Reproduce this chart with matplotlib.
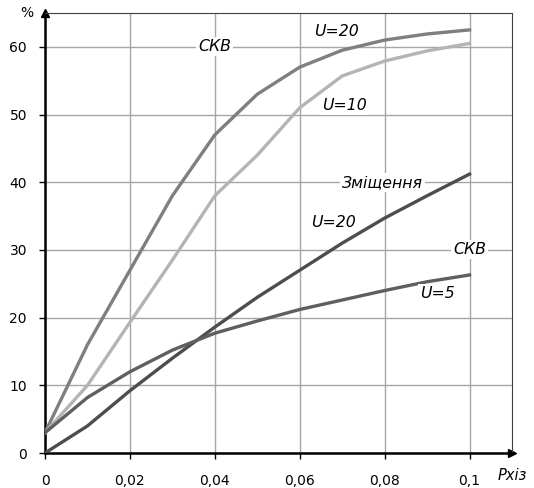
import matplotlib.pyplot as plt

x = [0, 0.01, 0.02, 0.03, 0.04, 0.05, 0.06, 0.07, 0.08, 0.09, 0.1]
skv_u20 = [3, 16, 27, 38, 47, 53, 57, 59.5, 61, 61.9, 62.5]
skv_u10 = [3, 10, 19.3, 28.5, 38, 44, 51, 55.7, 57.9, 59.4, 60.5]
zm_u20 = [0, 4, 9.2, 14, 18.6, 23, 27, 31, 34.7, 38, 41.2]
zm_u5 = [3, 8.2, 12, 15.2, 17.7, 19.5, 21.2, 22.6, 24, 25.3, 26.3]

xticks = [0, 0.02, 0.04, 0.06, 0.08, 0.1]
xtick_labels = ["0", "0,02", "0,04", "0,06", "0,08", "0,1"]
yticks = [0, 10, 20, 30, 40, 50, 60]

labels = [
    ("СКВ", 0.04, 60),
    ("U=20", 0.0687, 62.2),
    ("U=10", 0.0705, 51.4),
    ("Зміщення", 0.0795, 40),
    ("U=20", 0.068, 34),
    ("СКВ", 0.1, 30),
    ("U=5", 0.0925, 23.6),
]

fig = plt.figure(figsize=(5.34, 4.88), dpi=100)
ax = fig.add_axes([0.0843, 0.0717, 0.8745, 0.9017])

ax.plot(x, skv_u20, color="#7f7f7f", lw=2.4, zorder=3)
ax.plot(x, skv_u10, color="#b4b4b4", lw=2.4, zorder=3)
ax.plot(x, zm_u20, color="#4d4d4d", lw=2.4, zorder=3)
ax.plot(x, zm_u5, color="#5f5f5f", lw=2.4, zorder=3)

ax.set_xlim(0, 0.11)
ax.set_ylim(0, 65)
ax.grid(True, color="#a6a6a6", lw=1)
ax.set_axisbelow(True)
ax.tick_params(length=4, width=1, labelsize=10, colors="black")
ax.tick_params(axis="x", pad=11)
ax.tick_params(axis="y", pad=9)
ax.set_xticks(xticks, labels=xtick_labels)
ax.set_yticks(yticks)

for side in ["top", "right"]:
    ax.spines[side].set_color("#404040")
    ax.spines[side].set_linewidth(0.8)
for side in ["left", "bottom"]:
    ax.spines[side].set_linewidth(1.8)

ax.plot(1, 0, ">k", ms=6, transform=ax.get_yaxis_transform(), clip_on=False)
ax.plot(0, 1, "^k", ms=6, transform=ax.get_xaxis_transform(), clip_on=False)

for txt, tx, ty in labels:
    ax.text(tx, ty, txt, style="italic", fontsize=11.3, ha="center", va="center",
            zorder=4, bbox=dict(facecolor="white", edgecolor="none", pad=1.5))

ax.text(-0.04, 1.0, "%", transform=ax.transAxes, fontsize=10, ha="center", va="center")
ax.text(1.0, -0.052, "Pxiз", transform=ax.transAxes, fontsize=10.5, style="italic",
        ha="center", va="center")

fig.savefig("out.png", dpi=100)
